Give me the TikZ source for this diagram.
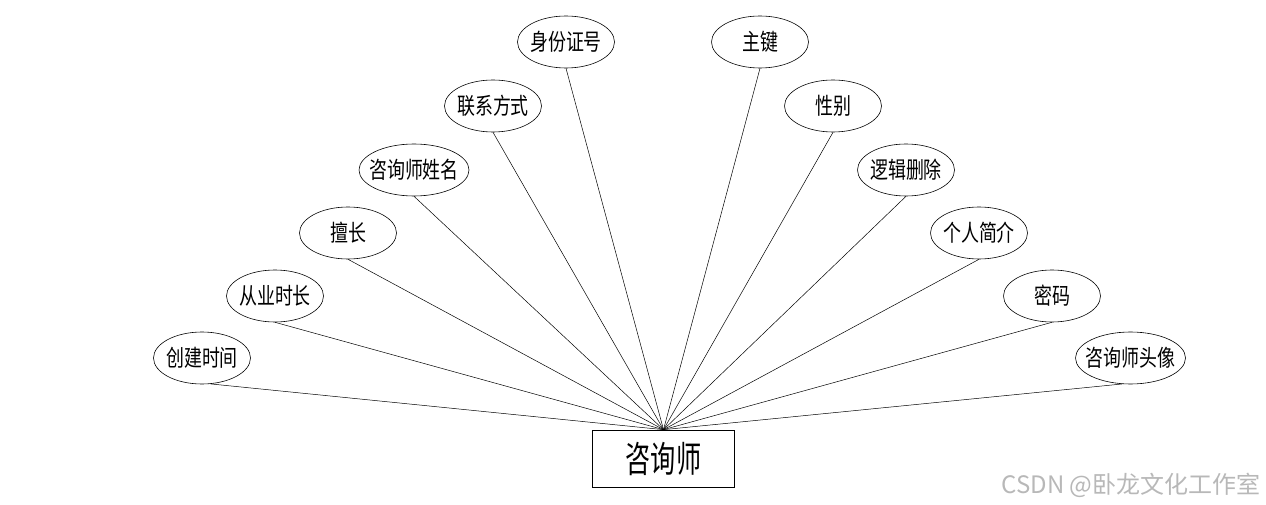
\documentclass[tikz,border=0pt]{standalone}
\usepackage{fontspec}
\setmainfont{Noto Sans CJK SC}
\newfontfamily\cjk[FakeStretch=0.78]{Noto Sans CJK SC}
\newfontfamily\cjkent[FakeStretch=0.7]{Noto Sans CJK SC}
\newfontfamily\cjkwm{Noto Sans CJK SC}
\usetikzlibrary{shapes.geometric}
\newcommand\ctr[1]{\makebox[0pt]{#1}}
\begin{document}
\begin{tikzpicture}[x=1pt,y=-1pt,
  attr/.style={draw,ellipse,line width=0.6pt,inner sep=0pt,minimum width=97pt,minimum height=52pt,font=\cjk\fontsize{23}{24}\selectfont},
  wide/.style={minimum width=110pt},
  ent/.style={draw,rectangle,line width=0.7pt,inner sep=0pt,minimum width=142pt,minimum height=57pt,font=\cjkent\fontsize{36}{38}\selectfont},
  link/.style={line width=0.5pt}]
\useasboundingbox (0,0) rectangle (1266,505);
\node[ent] (r) at (663.5,458.5) {咨询师};
\node[attr] (a1) at (566,42) {\ctr{身份证号}};
\node[attr] (a2) at (760,42) {\ctr{主键}};
\node[attr] (a3) at (493,106) {\ctr{联系方式}};
\node[attr] (a4) at (833,106) {\ctr{性别}};
\node[attr,wide] (a5) at (414,170) {\ctr{咨询师姓名}};
\node[attr] (a6) at (906,170) {\ctr{逻辑删除}};
\node[attr] (a7) at (348,233) {\ctr{擅长}};
\node[attr] (a8) at (979,233) {\ctr{个人简介}};
\node[attr] (a9) at (275,296) {\ctr{从业时长}};
\node[attr] (a10) at (1052,296) {\ctr{密码}};
\node[attr] (a11) at (202,358) {\ctr{创建时间}};
\node[attr,wide] (a12) at (1130.5,358) {\ctr{咨询师头像}};
\foreach \i in {1,...,10} \draw[link] (a\i.south) -- (r.north);
\draw[link] (a11.-72) -- (r.north);
\draw[link] (a12.-108) -- (r.north);
\node[anchor=east,text=black!28,font=\cjkwm\fontsize{24}{26}\selectfont] (wm) at (1264,485) {CSDN @卧龙文化工作室};
\end{tikzpicture}
\end{document}
